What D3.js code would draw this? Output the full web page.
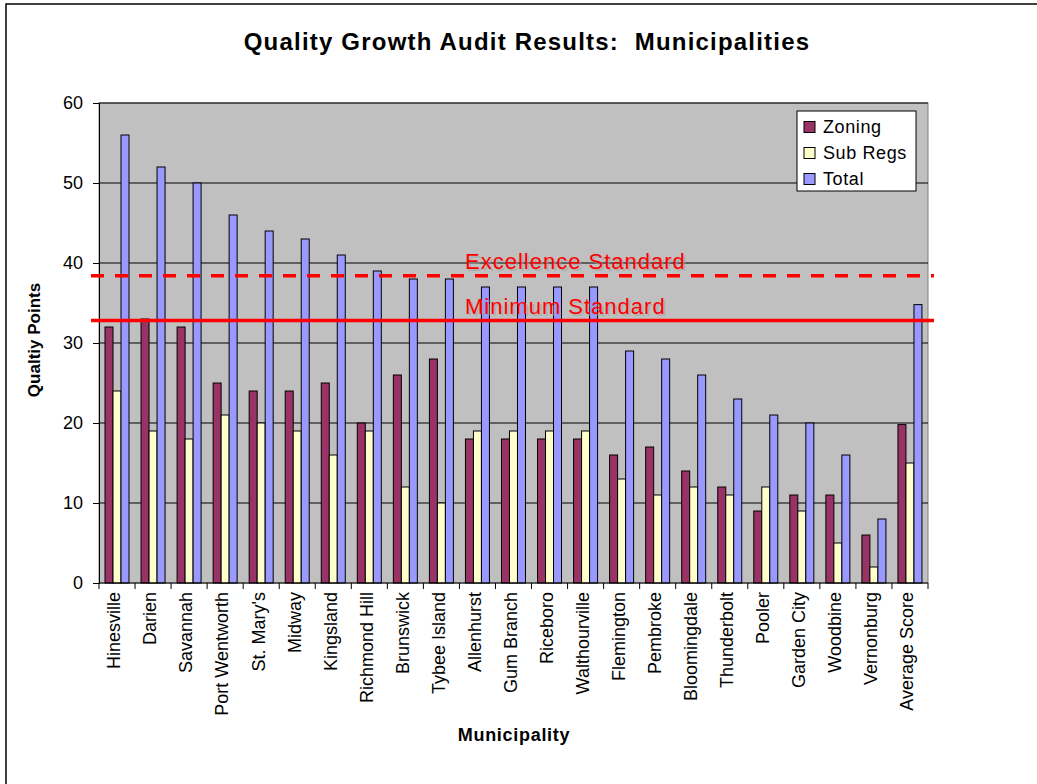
<!DOCTYPE html>
<html>
<head>
<meta charset="utf-8">
<script src="https://cdn.jsdelivr.net/npm/d3@7"></script>
<style>
    body { margin: 0; background: #fff; }
    text { font-family: "Liberation Sans", Arial, sans-serif; }
</style>
</head>
<body>
<svg id="chart" width="1037" height="784"></svg>
<script>
const municipalities = ["Hinesville", "Darien", "Savannah", "Port Wentworth", "St. Mary's", "Midway",
    "Kingsland", "Richmond Hill", "Brunswick", "Tybee Island", "Allenhurst", "Gum Branch", "Riceboro",
    "Walthourville", "Flemington", "Pembroke", "Bloomingdale", "Thunderbolt", "Pooler", "Garden City",
    "Woodbine", "Vernonburg", "Average Score"];
const zoning  = [32, 33, 32, 25, 24, 24, 25, 20, 26, 28, 18, 18, 18, 18, 16, 17, 14, 12, 9, 11, 11, 6, 19.8];
const subRegs = [24, 19, 18, 21, 20, 19, 16, 19, 12, 10, 19, 19, 19, 19, 13, 11, 12, 11, 12, 9, 5, 2, 15];
const total   = [56, 52, 50, 46, 44, 43, 41, 39, 38, 38, 37, 37, 37, 37, 29, 28, 26, 23, 21, 20, 16, 8, 34.8];
const seriesNames = ["Zoning", "Sub Regs", "Total"];
const yTicks = [0, 10, 20, 30, 40, 50, 60];
const standards = [
    { label: "Excellence Standard", value: 38.4, dashed: true },
    { label: "Minimum Standard", value: 32.8, dashed: false }
];

const colours = { "Zoning": "#993366", "Sub Regs": "#ffffcc", "Total": "#9999ff" };

const svg = d3.select("#chart");
const margin = { left: 99, top: 103, right: 1037 - 928, bottom: 784 - 583 };
const width = 1037 - margin.left - margin.right,
      height = 784 - margin.top - margin.bottom;

// outer chart frame (right and bottom edges run off the page)
svg.append("rect")
   .attr("x", 6).attr("y", 4)
   .attr("width", 1200).attr("height", 1000)
   .style("fill", "none").style("stroke", "#000").style("stroke-width", 1.5);

svg.append("text")
   .attr("x", 527).attr("y", 50)
   .attr("text-anchor", "middle")
   .style("font-size", "24px").style("font-weight", "bold")
   .style("letter-spacing", "1.2px").style("white-space", "pre")
   .text("Quality Growth Audit Results:  Municipalities");

const g = svg.append("g").attr("transform", "translate(" + margin.left + "," + margin.top + ")");

const x = d3.scaleBand().domain(municipalities).range([0, width]);
const xSeries = d3.scaleBand().domain(seriesNames).range([6, 30]);
const y = d3.scaleLinear().domain([0, 60]).range([height, 0]);

g.append("rect")
 .attr("width", width).attr("height", height)
 .style("fill", "#c0c0c0").style("stroke", "#808080");

g.selectAll(".grid")
 .data(yTicks.slice(1))
 .enter().append("line")
 .attr("class", "grid")
 .attr("x1", 0).attr("x2", width)
 .attr("y1", d => y(d)).attr("y2", d => y(d))
 .style("stroke", "#000").style("stroke-width", 1);

const rows = municipalities.map((m, i) => ({ name: m, values: [zoning[i], subRegs[i], total[i]] }));

g.selectAll(".group")
 .data(rows)
 .enter().append("g")
 .attr("class", "group")
 .attr("transform", d => "translate(" + x(d.name) + ",0)")
 .each((d, i, nodes) => {
     d3.select(nodes[i]).selectAll("rect")
       .data(d.values.map((v, j) => ({ key: seriesNames[j], value: v })))
       .enter().append("rect")
       .attr("x", s => xSeries(s.key))
       .attr("width", xSeries.bandwidth())
       .attr("y", s => y(s.value))
       .attr("height", s => height - y(s.value))
       .style("fill", s => colours[s.key])
       .style("stroke", "#000").style("stroke-width", 1);
 });

// y axis
const yAxis = g.append("g")
   .call(d3.axisLeft(y).tickValues(yTicks).tickSize(6).tickPadding(10));
yAxis.select(".domain").style("stroke", "#000");
yAxis.selectAll("text").style("font-size", "18px").style("fill", "#000")
     .style("font-family", "'Liberation Sans', Arial, sans-serif");

// x axis: ticks on band boundaries
const xAxis = g.append("g").attr("transform", "translate(0," + height + ")");
xAxis.append("line").attr("x1", 0).attr("x2", width).style("stroke", "#000");
xAxis.selectAll(".tick")
     .data(municipalities.map(m => x(m)).concat([width]))
     .enter().append("line")
     .attr("x1", d => d).attr("x2", d => d)
     .attr("y1", 0).attr("y2", 6)
     .style("stroke", "#000");
xAxis.selectAll(".label")
     .data(municipalities)
     .enter().append("text")
     .attr("class", "label")
     .attr("transform", d => "translate(" + (x(d) + x.bandwidth() / 2 - 3) + ",9) rotate(-90)")
     .attr("dy", "0.35em")
     .attr("text-anchor", "end")
     .style("font-size", "18px")
     .text(d => d);

// standards lines
standards.forEach(s => {
    const ly = margin.top + y(s.value);
    svg.append("line")
       .attr("x1", 91).attr("x2", 934)
       .attr("y1", ly).attr("y2", ly)
       .style("stroke", "#ff0000").style("stroke-width", 3.5)
       .style("stroke-dasharray", s.dashed ? "13,11" : null);
    svg.append("text")
       .attr("x", 467).attr("y", ly - 5)
       .style("font-size", "22px").style("letter-spacing", "1px")
       .style("fill", "#a0a0a0").style("opacity", 0.5)
       .text(s.label);
    svg.append("text")
       .attr("x", 465).attr("y", ly - 7)
       .style("font-size", "22px").style("letter-spacing", "1px")
       .style("fill", "#ff0000")
       .text(s.label);
});

// axis titles
svg.append("text")
   .attr("transform", "translate(40,340) rotate(-90)")
   .attr("text-anchor", "middle")
   .style("font-size", "17px").style("font-weight", "bold")
   .text("Qualtiy Points");

svg.append("text")
   .attr("x", 514).attr("y", 741)
   .attr("text-anchor", "middle")
   .style("font-size", "18px").style("font-weight", "bold")
   .style("letter-spacing", "0.7px")
   .text("Municipality");

// legend
const legend = svg.append("g").attr("class", "legend").attr("transform", "translate(797,111)");
legend.append("rect")
      .attr("width", 119).attr("height", 80)
      .style("fill", "#fff").style("stroke", "#000");
const entries = legend.selectAll(".legend-element")
      .data(seriesNames)
      .enter().append("g")
      .attr("class", "legend-element")
      .attr("transform", (d, i) => "translate(7," + (16 + i * 26) + ")");
entries.append("rect")
       .attr("width", 11).attr("height", 11).attr("y", -5.5)
       .style("fill", d => colours[d]).style("stroke", "#000");
entries.append("text")
       .attr("x", 19).attr("dy", "0.35em")
       .style("font-size", "18px").style("letter-spacing", "0.6px")
       .text(d => d);
</script>
</body>
</html>
